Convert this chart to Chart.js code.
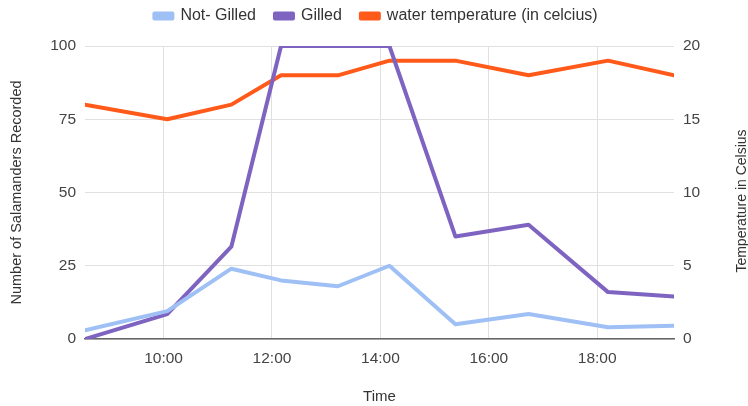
<!DOCTYPE html>
<html>
<head>
<meta charset="utf-8">
<script src="https://cdn.jsdelivr.net/npm/chart.js@4"></script>
<style>
html,body{margin:0;padding:0;background:#fff;}
#wrap{width:748px;height:406px;position:relative;}
</style>
</head>
<body>
<div id="wrap"><canvas id="c"></canvas></div>
<script>
// Data
const times = ["8:33","10:04","11:15","12:10","13:13","14:10","15:23","16:44","18:12","19:25"];
const notGilled = [3, 9.5, 24, 20, 18, 25, 5, 8.5, 4, 4.5];
const gilled = [0, 8.5, 31.5, 100, 100, 100, 35, 39, 16, 14.5];
const waterTemp = [16, 15, 16, 18, 18, 19, 19, 18, 19, 18];
const xTicks = [10, 12, 14, 16, 18];
const leftTicks = [0, 25, 50, 75, 100];
const rightTicks = [0, 5, 10, 15, 20];

const toHours = s => { const [h, m] = s.split(":").map(Number); return h + m / 60; };
const xs = times.map(toHours);
const pts = arr => arr.map((v, i) => ({x: xs[i], y: v}));

const FONT = "'Liberation Sans', Arial, sans-serif";
Chart.defaults.font.family = FONT;
Chart.defaults.color = "#444";

const PAD_TOP = -11;
const legendSpace = {
  id: "legendSpace",
  beforeInit(chart) {
    const fit = chart.legend.fit;
    chart.legend.fit = function () {
      fit.bind(chart.legend)();
      this.height = 46 - PAD_TOP;
    };
  }
};

const rightTitle = {
  id: "rightTitle",
  afterDraw(chart) {
    const {ctx} = chart;
    ctx.save();
    ctx.translate(742, 201);
    ctx.rotate(-Math.PI / 2);
    ctx.textAlign = "center";
    ctx.textBaseline = "middle";
    ctx.font = "14px " + FONT;
    ctx.fillStyle = "#333";
    ctx.fillText("Temperature in Celsius", 0, 0);
    ctx.restore();
  }
};

new Chart(document.getElementById("c"), {
  type: "line",
  data: {
    datasets: [
      {label: "Not- Gilled", data: pts(notGilled), borderColor: "#9fc0f5", backgroundColor: "#9fc0f5", yAxisID: "y", borderWidth: 4},
      {label: "Gilled", data: pts(gilled), borderColor: "#7e64c0", backgroundColor: "#7e64c0", yAxisID: "y", borderWidth: 4},
      {label: "water temperature (in celcius)", data: pts(waterTemp), borderColor: "#ff5a1a", backgroundColor: "#ff5a1a", yAxisID: "y1", borderWidth: 4}
    ]
  },
  options: {
    responsive: true,
    maintainAspectRatio: false,
    animation: false,
    elements: {point: {radius: 0}, line: {tension: 0, borderJoinStyle: "round", borderCapStyle: "round"}},
    layout: {padding: {left: 4, right: 0, top: PAD_TOP, bottom: 0}},
    plugins: {
      legend: {
        position: "top",
        labels: {boxWidth: 18, boxHeight: 5, color: "#333", font: {size: 16}, padding: 19}
      },
      tooltip: {enabled: false}
    },
    scales: {
      x: {
        type: "linear",
        min: xs[0],
        max: xs[xs.length - 1],
        afterBuildTicks: axis => { axis.ticks = xTicks.map(v => ({value: v})); },
        afterFit: axis => { axis.height = 406 - 339; },
        ticks: {callback: v => v + ":00", color: "#444", font: {size: 15.5}, padding: 10, maxRotation: 0},
        grid: {color: "#e0e0e0", drawTicks: false},
        border: {color: "#666", width: 1.5},
        title: {display: true, text: "Time", color: "#333", font: {size: 15}, padding: {top: 4, bottom: 0}}
      },
      y: {
        position: "left",
        min: 0, max: 100,
        afterBuildTicks: axis => { axis.ticks = leftTicks.map(v => ({value: v})); },
        afterFit: axis => { axis.width = 85 - 4; },
        ticks: {color: "#444", font: {size: 15.5}, padding: 9},
        grid: {color: "#e0e0e0", drawTicks: false},
        border: {display: false},
        title: {display: true, text: "Number of Salamanders Recorded", color: "#333", font: {size: 14.5}, padding: {top: 4, bottom: 4}}
      },
      y1: {
        position: "right",
        min: 0, max: 20,
        afterBuildTicks: axis => { axis.ticks = rightTicks.map(v => ({value: v})); },
        afterFit: axis => { axis.width = 748 - 674; },
        ticks: {color: "#444", font: {size: 15.5}, padding: 9},
        grid: {drawOnChartArea: false, drawTicks: false},
        border: {display: false}
      }
    }
  },
  plugins: [legendSpace, rightTitle]
});
</script>
</body>
</html>
